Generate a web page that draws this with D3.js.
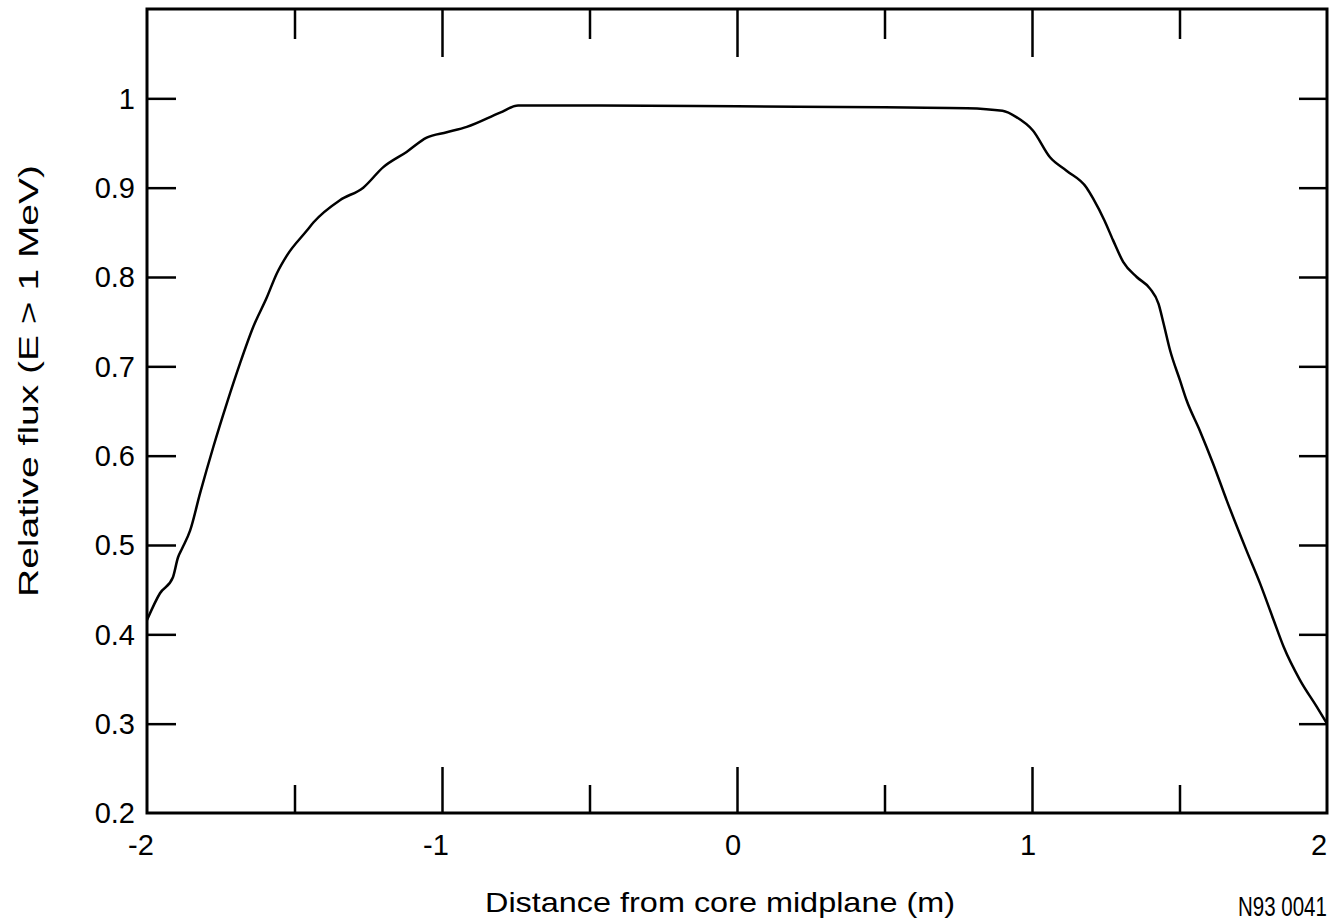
<!DOCTYPE html>
<html>
<head>
<meta charset="utf-8">
<script src="https://cdn.jsdelivr.net/npm/d3@7"></script>
<style>
  html, body { margin: 0; padding: 0; background: #fff; }
  svg { display: block; }
  text { font-family: "Liberation Sans", Arial, Helvetica, sans-serif; fill: #000; }
</style>
</head>
<body>
<svg id="chart" width="1330" height="923"></svg>
<script>
// ---- data ----
const distance = [-2.0, -1.956, -1.912, -1.895, -1.881, -1.854, -1.82, -1.775, -1.73, -1.685, -1.64, -1.594, -1.56, -1.526, -1.458, -1.436, -1.346, -1.267, -1.199, -1.12, -1.052, -0.984, -0.916, -0.803, -0.742, -0.5, 0.0, 0.5, 0.78, 0.9, 0.947, 1.003, 1.061, 1.117, 1.185, 1.207, 1.246, 1.275, 1.309, 1.355, 1.4, 1.429, 1.446, 1.468, 1.502, 1.524, 1.569, 1.614, 1.66, 1.727, 1.773, 1.819, 1.853, 1.908, 1.965, 2.0];
const relFlux  = [0.416, 0.446, 0.464, 0.486, 0.496, 0.516, 0.558, 0.61, 0.658, 0.703, 0.744, 0.777, 0.804, 0.824, 0.852, 0.861, 0.886, 0.9, 0.923, 0.94, 0.956, 0.962, 0.968, 0.984, 0.992, 0.992, 0.991, 0.99, 0.989, 0.986, 0.979, 0.964, 0.934, 0.919, 0.9, 0.888, 0.863, 0.841, 0.817, 0.8, 0.787, 0.77, 0.748, 0.718, 0.684, 0.662, 0.628, 0.591, 0.55, 0.494, 0.457, 0.416, 0.386, 0.349, 0.319, 0.3];
const xTickLabels = ["-2", "-1", "0", "1", "2"];
const xTicksAll = [-1.5, -1, -0.5, 0, 0.5, 1, 1.5];
const yTickLabels = ["0.2", "0.3", "0.4", "0.5", "0.6", "0.7", "0.8", "0.9", "1"];
const yTicksInner = [0.3, 0.4, 0.5, 0.6, 0.7, 0.8, 0.9, 1];
const xTitle = "Distance from core midplane (m)";
const yTitle = "Relative flux (E > 1 MeV)";
const figId = "N93 0041";

// ---- layout ----
const L = 147, R = 1327, T = 9, B = 813;
const svg = d3.select("#chart");
const x = d3.scaleLinear().domain([-2, 2]).range([L, R]);
const y = d3.scaleLinear().domain([0.2, 1.1]).range([B, T]);

const isMajor = d => Math.abs(d - Math.round(d)) < 1e-9;

// bottom ticks (inward)
const gB = svg.append("g").attr("transform", `translate(0,${B})`)
  .call(d3.axisBottom(x).tickValues(xTicksAll).tickFormat("").tickSizeOuter(0));
gB.select(".domain").remove();
gB.selectAll(".tick line").attr("y2", d => isMajor(d) ? -46 : -28)
  .attr("stroke", "#000").attr("stroke-width", 2.5);

// top ticks (inward)
const gT = svg.append("g").attr("transform", `translate(0,${T})`)
  .call(d3.axisTop(x).tickValues(xTicksAll).tickFormat("").tickSizeOuter(0));
gT.select(".domain").remove();
gT.selectAll(".tick line").attr("y2", d => isMajor(d) ? 48 : 30)
  .attr("stroke", "#000").attr("stroke-width", 2.5);

// left ticks (inward)
const gL = svg.append("g").attr("transform", `translate(${L},0)`)
  .call(d3.axisLeft(y).tickValues(yTicksInner).tickFormat("").tickSizeInner(-29).tickSizeOuter(0));
gL.select(".domain").remove();
gL.selectAll(".tick line").attr("stroke", "#000").attr("stroke-width", 2.5);

// right ticks (inward)
const gR = svg.append("g").attr("transform", `translate(${R},0)`)
  .call(d3.axisRight(y).tickValues(yTicksInner).tickFormat("").tickSizeInner(-28).tickSizeOuter(0));
gR.select(".domain").remove();
gR.selectAll(".tick line").attr("stroke", "#000").attr("stroke-width", 2.5);

// frame
svg.append("rect").attr("x", L).attr("y", T).attr("width", R - L).attr("height", B - T)
  .attr("fill", "none").attr("stroke", "#000").attr("stroke-width", 3);

// y tick labels
svg.append("g").selectAll("text").data(yTickLabels).join("text")
  .attr("x", 135).attr("y", d => y(+d)).attr("dy", "0.36em")
  .attr("text-anchor", "end").attr("font-size", 29)
  .text(d => d);

// x tick labels
svg.append("g").selectAll("text").data(xTickLabels).join("text")
  .attr("x", d => x(+d) - (+d < 0 ? 6 : (+d === 2 ? 8 : 4))).attr("y", 855)
  .attr("text-anchor", "middle").attr("font-size", 29)
  .text(d => d);

// axis titles
svg.append("text").attr("x", 720).attr("y", 912).attr("text-anchor", "middle")
  .attr("font-size", 28).attr("textLength", 470).attr("lengthAdjust", "spacingAndGlyphs")
  .text(xTitle);
svg.append("text").attr("transform", "translate(38,381) rotate(-90)").attr("text-anchor", "middle")
  .attr("font-size", 28).attr("textLength", 432).attr("lengthAdjust", "spacingAndGlyphs")
  .text(yTitle);
svg.append("text").attr("transform", "translate(1238,916) scale(1,1.33)")
  .attr("font-size", 20.5)
  .text(figId);

// curve
const line = d3.line().x((d, i) => x(distance[i])).y((d, i) => y(relFlux[i])).curve(d3.curveMonotoneX);
svg.append("path").datum(relFlux).attr("d", line)
  .attr("fill", "none").attr("stroke", "#000").attr("stroke-width", 2.5).attr("stroke-linejoin", "round");
</script>
</body>
</html>
